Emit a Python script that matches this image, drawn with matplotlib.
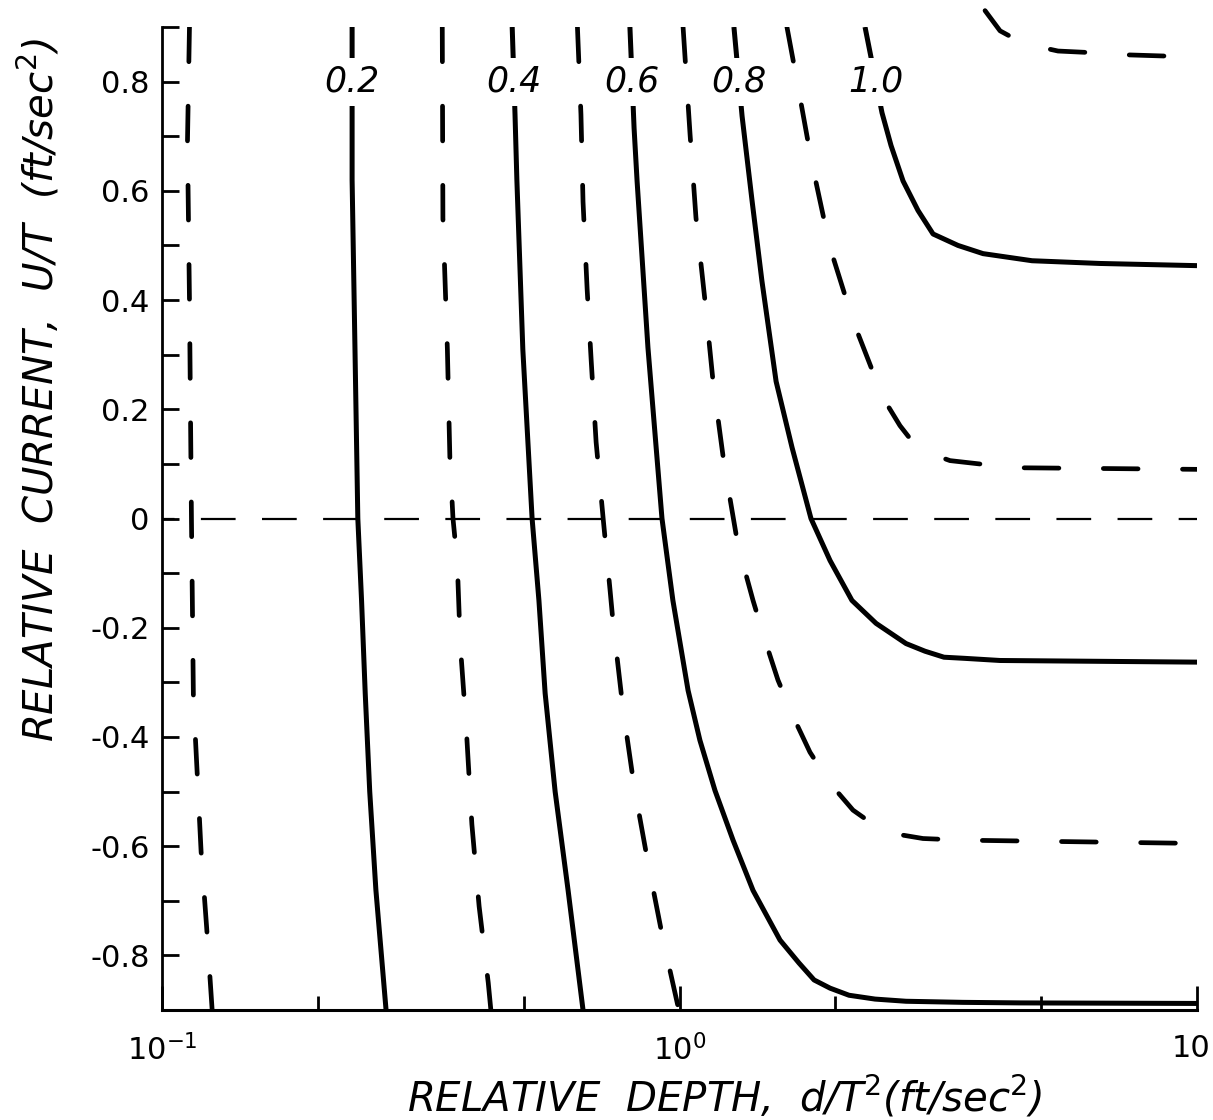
import numpy as np
import matplotlib
matplotlib.use("Agg")
import matplotlib.pyplot as plt
from matplotlib.ticker import FixedLocator, FixedFormatter, NullFormatter
from matplotlib.transforms import ScaledTranslation

plt.rcParams['font.family'] = ['DejaVu Sans']
plt.rcParams['mathtext.fontset'] = 'dejavusans'
plt.rcParams['lines.scale_dashes'] = False

# ---------------- data ----------------
# solid curves (labelled)
s02_x = [0.233, 0.233, 0.236, 0.239, 0.243, 0.247, 0.252, 0.259, 0.271]
s02_y = [0.90, 0.62, 0.31, 0.00, -0.15, -0.32, -0.50, -0.68, -0.90]

s04_x = [0.475, 0.481, 0.485, 0.498, 0.519, 0.535, 0.550, 0.575, 0.609, 0.651]
s04_y = [0.90, 0.74, 0.62, 0.31, 0.00, -0.15, -0.32, -0.50, -0.68, -0.90]

s06_x = [0.802, 0.817, 0.828, 0.869, 0.925, 0.971, 1.039, 1.095, 1.171, 1.269,
         1.387, 1.564, 1.702, 1.820, 1.954, 2.126, 2.387, 2.740, 3.53, 4.57, 10.0]
s06_y = [0.90, 0.715, 0.618, 0.313, 0.0, -0.150, -0.315, -0.406, -0.498, -0.589,
         -0.681, -0.772, -0.814, -0.845, -0.860, -0.873, -0.880, -0.884, -0.886, -0.887, -0.888]

s08_x = [1.274, 1.321, 1.381, 1.443, 1.537, 1.650, 1.795, 1.954, 2.154, 2.398,
         2.740, 2.981, 3.244, 3.546, 4.163, 10.0]
s08_y = [0.90, 0.737, 0.582, 0.435, 0.251, 0.130, 0.0, -0.077, -0.150, -0.192,
         -0.229, -0.243, -0.254, -0.256, -0.260, -0.263]

s10_x = [2.283, 2.462, 2.563, 2.704, 2.890, 3.090, 3.453, 3.860, 4.800, 6.495, 10.0]
s10_y = [0.90, 0.743, 0.683, 0.618, 0.564, 0.521, 0.500, 0.485, 0.472, 0.467, 0.463]

solid_labels = ['0.2', '0.4', '0.6', '0.8', '1.0']

# dashed curves (intermediate, unlabelled)
d01_x = [0.113, 0.112, 0.113, 0.114, 0.115, 0.117, 0.119, 0.122, 0.125]
d01_y = [0.90, 0.69, 0.40, 0.00, -0.33, -0.47, -0.61, -0.75, -0.90]

d03_x = [0.348, 0.349, 0.356, 0.360, 0.365, 0.372, 0.377, 0.387, 0.397, 0.410,
         0.427, 0.432]
d03_y = [0.90, 0.55, 0.31, 0.11, 0.00, -0.08, -0.23, -0.38, -0.56, -0.71,
         -0.85, -0.90]

d05_x = [0.635, 0.645, 0.651, 0.663, 0.675, 0.690, 0.712, 0.734, 0.744, 0.778,
         0.817, 0.869, 0.929, 0.997]
d05_y = [0.90, 0.74, 0.58, 0.42, 0.29, 0.14, 0.00, -0.13, -0.19, -0.35,
         -0.49, -0.63, -0.77, -0.90]

d07_x = [1.016, 1.048, 1.076, 1.120, 1.161, 1.219, 1.297, 1.387, 1.463, 1.550,
         1.672, 1.787, 1.954, 2.164, 2.334, 2.518, 2.955, 3.530, 10.0]
d07_y = [0.90, 0.704, 0.551, 0.399, 0.251, 0.101, -0.049, -0.150, -0.223, -0.296,
         -0.370, -0.428, -0.485, -0.534, -0.556, -0.575, -0.586, -0.589, -0.595]

d09_x = [1.613, 1.702, 1.803, 1.954, 2.164, 2.473, 2.667, 2.839, 3.049, 3.332, 4.411, 10.0]
d09_y = [0.90, 0.781, 0.650, 0.496, 0.362, 0.221, 0.170, 0.137, 0.119, 0.106, 0.093, 0.090]

d11_x = [3.894, 4.163, 4.511, 4.930, 5.388, 6.267, 7.322, 10.0]
d11_y = [0.93, 0.893, 0.875, 0.864, 0.856, 0.853, 0.849, 0.845]

zero_x = [0.1, 10.0]
zero_y = [0.0, 0.0]

ytick_major = [-0.8, -0.6, -0.4, -0.2, 0.0, 0.2, 0.4, 0.6, 0.8]
ytick_labels = ['-0.8', '-0.6', '-0.4', '-0.2', '0', '0.2', '0.4', '0.6', '0.8']
ytick_minor = [-0.9, -0.7, -0.5, -0.3, -0.1, 0.1, 0.3, 0.5, 0.7, 0.9]
xtick_major = [0.1, 1.0, 10.0]
xtick_labels = ['$10^{-1}$', '$10^{0}$', '10']
xtick_minor = [0.2, 0.5, 2.0, 5.0]

# ---------------- figure ----------------
W, H = 1213, 1120
fig = plt.figure(figsize=(W / 100, H / 100), dpi=100)
L, R, T, B = 162, 1197, 27, 1010
ax = fig.add_axes([L / W, 1 - B / H, (R - L) / W, (B - T) / H])
ax.set_xscale('log')
ax.set_xlim(0.1, 10)
ax.set_ylim(-0.9, 0.9)

for s in ('top', 'right'):
    ax.spines[s].set_visible(False)
ax.spines['left'].set_linewidth(2.0)
ax.spines['bottom'].set_linewidth(2.2)

solid_kw = dict(color='black', lw=3.6, solid_capstyle='butt', solid_joinstyle='round')
dash_kw = dict(color='black', lw=3.4, dashes=(25, 32), dash_capstyle='round',
               dash_joinstyle='round')

solids = [(s02_x, s02_y), (s04_x, s04_y), (s06_x, s06_y), (s08_x, s08_y), (s10_x, s10_y)]
for (xs, ys) in solids:
    ax.plot(xs, ys, **solid_kw)

for (xs, ys) in [(d01_x, d01_y), (d03_x, d03_y), (d05_x, d05_y), (d07_x, d07_y), (d09_x, d09_y)]:
    ax.plot(xs, ys, **dash_kw)
ax.plot(d11_x, d11_y, clip_on=False, **dash_kw)

ax.plot(zero_x, zero_y, color='black', lw=1.6, linestyle=(16, (25, 19)),
        dash_capstyle='butt')

# curve labels placed on each solid curve at U/T = 0.8
label_y = 0.8
for (xs, ys), lab in zip(solids, solid_labels):
    lx = 10 ** np.interp(label_y, np.array(ys)[::-1], np.log10(np.array(xs))[::-1])
    ax.text(lx, label_y, lab, ha='center', va='center', fontsize=25, style='italic',
            bbox=dict(facecolor='white', edgecolor='none', pad=5), zorder=6)

# ticks
ax.yaxis.set_major_locator(FixedLocator(ytick_major))
ax.yaxis.set_major_formatter(FixedFormatter(ytick_labels))
ax.yaxis.set_minor_locator(FixedLocator(ytick_minor))
ax.yaxis.set_minor_formatter(NullFormatter())
ax.xaxis.set_major_locator(FixedLocator(xtick_major))
ax.xaxis.set_major_formatter(FixedFormatter(xtick_labels))
ax.xaxis.set_minor_locator(FixedLocator(xtick_minor))
ax.xaxis.set_minor_formatter(NullFormatter())

ax.tick_params(axis='y', which='both', direction='in', length=12, width=2.0,
               labelsize=22, pad=9, right=False)
ax.tick_params(axis='x', which='major', direction='in', length=17, width=2.0,
               labelsize=22, pad=17, top=False)
ax.tick_params(axis='x', which='minor', direction='in', length=10, width=2.0, top=False)

ax.set_xlabel('RELATIVE  DEPTH,  d/T$^{\\mathit{2}}$(ft/sec$^{\\mathit{2}}$)',
              fontsize=29, style='italic', va='center', ha='center')
ax.xaxis.set_label_coords((725 - L) / (R - L), -(1096 - B) / (B - T))
ax.set_ylabel('RELATIVE  CURRENT,  U/T  (ft/sec$^{\\mathit{2}}$)',
              fontsize=29, style='italic', va='center', ha='center')
ax.yaxis.set_label_coords((38 - L) / (R - L), (B - 390) / (B - T))

# keep the last x tick label ("10") inside the figure, as in the reference
fig.canvas.draw()
last = ax.xaxis.get_major_ticks()[-1].label1
last.set_ha('right')
last.set_transform(last.get_transform() + ScaledTranslation(13 / 100, 0, fig.dpi_scale_trans))

fig.savefig('out.png', dpi=100, facecolor='white')
